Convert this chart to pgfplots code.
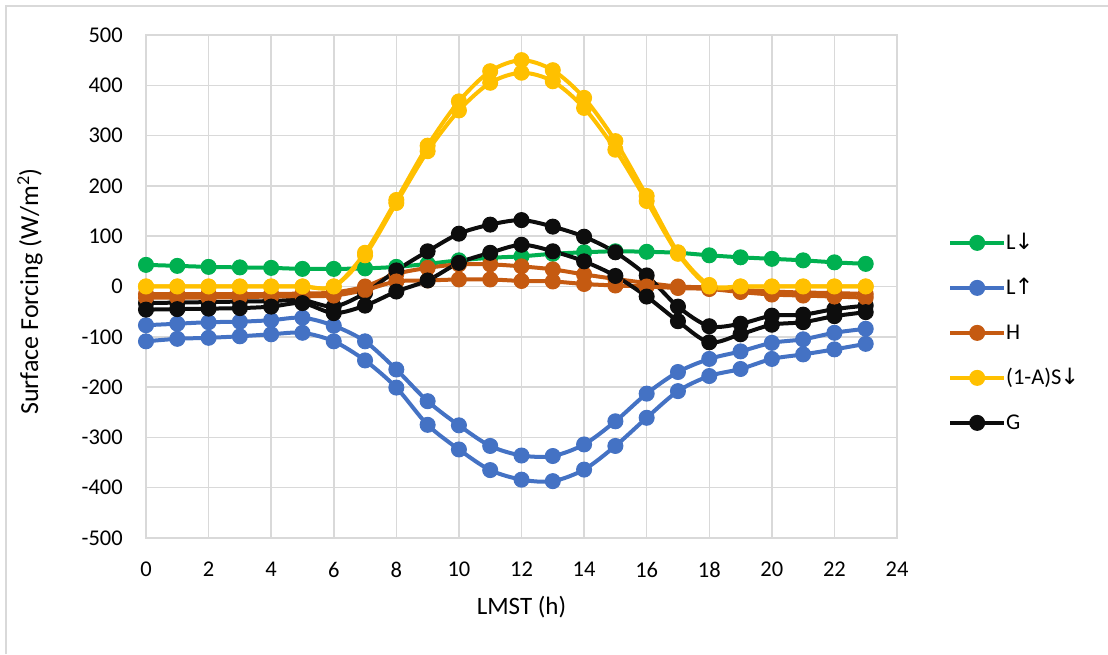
\documentclass[border=0pt]{standalone}
\usepackage{fontspec}
\setmainfont{Carlito}
\newfontfamily\symfont{DejaVu Sans}
\usepackage{pgfplots}
\usepackage{pgfplotstable}
\pgfplotsset{compat=1.18}

\definecolor{cGreen}{HTML}{00B050}
\definecolor{cBlue}{HTML}{4472C4}
\definecolor{cOrange}{HTML}{C55A11}
\definecolor{cYellow}{HTML}{FFC000}
\definecolor{cBlack}{HTML}{0D0D0D}
\definecolor{gridgray}{HTML}{D9D9D9}

\newcommand{\dn}{\kern-1pt{\symfont\char"2193}}
\newcommand{\up}{\kern-1pt{\symfont\char"2191}}

% hourly surface energy terms (W/m^2), two runs per term
\pgfplotstableread{
h  Ld   Lua   Lub   Ha   Hb   Sa   Sb   Ga   Gb
0  43   -77   -109  -15  -22  0    0    -33  -46
1  41   -74   -104  -15  -22  0    0    -32  -45
2  39   -71   -102  -15  -22  0    0    -31  -44
3  38   -70   -99   -15  -21  0    0    -30  -43
4  37   -67   -95   -15  -20  0    0    -29  -40
5  35   -62   -92   -14  -19  0    0    -27  -33
6  35   -78   -109  -12  -18  0    0    -40  -53
7  36   -109  -147  0    -7   67   62   -13  -38
8  39   -165  -201  25   10   172  166  32   -10
9  45   -228  -275  37   12   280  269  70   12
10 52   -276  -324  44   14   368  350  105  47
11 57   -317  -365  44   14   428  405  123  67
12 60   -336  -384  40   11   450  425  132  83
13 65   -337  -387  34   10   430  408  119  70
14 68   -314  -364  24   5    375  355  99   50
15 70   -268  -317  15   2    289  272  68   21
16 69   -213  -261  7    0    180  170  22   -20
17 67   -170  -208  0    -3   68   65   -40  -69
18 62   -144  -178  -2   -5   3    0    -79  -111
19 58   -129  -164  -7   -11  0    0    -74  -95
20 55   -112  -144  -10  -16  0    0    -58  -76
21 52   -105  -135  -12  -18  0    0    -56  -71
22 48   -92   -125  -13  -20  0    0    -45  -59
23 45   -84   -114  -15  -22  0    0    -38  -51
}\forcing

\begin{document}
\begin{tikzpicture}
\useasboundingbox (0,0) rectangle (1108pt,654pt);
\fill[white] (0,0) rectangle (1108pt,654pt);
\draw[gridgray, line width=2pt] (6pt,0) -- (6pt,648pt) -- (1108pt,648pt);
\begin{axis}[
  at={(146pt,116pt)}, anchor=south west,
  scale only axis, width=751pt, height=503pt,
  xmin=0, xmax=24, ymin=-500, ymax=500,
  xtick={0,2,...,24}, ytick={-500,-400,...,500},
  grid=major, grid style={color=gridgray, line width=1.5pt},
  axis line style={gridgray, line width=1.5pt},
  tick style={draw=none},
  font=\fontsize{22.5}{27}\selectfont,
  /pgf/number format/assume math mode=true,
  xticklabel style={inner sep=0pt, anchor=north, yshift=-24pt},
  yticklabel style={inner sep=0pt, anchor=east, xshift=-23pt},
  xlabel={LMST (h)},
  ylabel={Surface Forcing (W/m\textsuperscript{2})},
  xlabel style={at={(axis description cs:0.5,-0.1372)}, anchor=center, inner sep=0pt, font=\fontsize{25}{30}\selectfont},
  ylabel style={at={(axis description cs:-0.1545,0.49)}, anchor=center, inner sep=0pt, font=\fontsize{26}{31}\selectfont},
  legend cell align=left,
  legend style={at={(axis description cs:1.0679,0.609)}, anchor=north west,
    draw=none, fill=none, inner sep=0pt, row sep=23pt,
    nodes={inner sep=0pt, text height=18pt, text depth=4pt, anchor=west},
    /tikz/every even column/.append style={column sep=2pt}},
  legend image code/.code={\draw[mark repeat=2,mark phase=2] plot coordinates {(0pt,0pt) (27pt,0pt) (54pt,0pt)};},
  every axis plot/.append style={line width=4pt, mark=*, mark size=7.5pt, smooth},
]
\addplot[cGreen, mark options={cGreen, line width=1pt}] table[x=h,y=Ld] {\forcing};
\addlegendentry{L\dn}
\addplot[cBlue, mark options={cBlue, line width=1pt}] table[x=h,y=Lua] {\forcing};
\addlegendentry{L\up}
\addplot[cOrange, mark options={cOrange, line width=1pt}] table[x=h,y=Ha] {\forcing};
\addlegendentry{H}
\addplot[cYellow, mark options={cYellow, line width=1pt}] table[x=h,y=Sa] {\forcing};
\addlegendentry{(1-A)S\dn}
\addplot[cBlack, mark options={cBlack, line width=1pt}] table[x=h,y=Ga] {\forcing};
\addlegendentry{G}
\addplot[cBlue, mark options={cBlue, line width=1pt}, forget plot] table[x=h,y=Lub] {\forcing};
\addplot[cOrange, mark options={cOrange, line width=1pt}, forget plot] table[x=h,y=Hb] {\forcing};
\addplot[cYellow, mark options={cYellow, line width=1pt}, forget plot] table[x=h,y=Sb] {\forcing};
\addplot[cBlack, mark options={cBlack, line width=1pt}, forget plot] table[x=h,y=Gb] {\forcing};
\end{axis}
\end{tikzpicture}
\end{document}
